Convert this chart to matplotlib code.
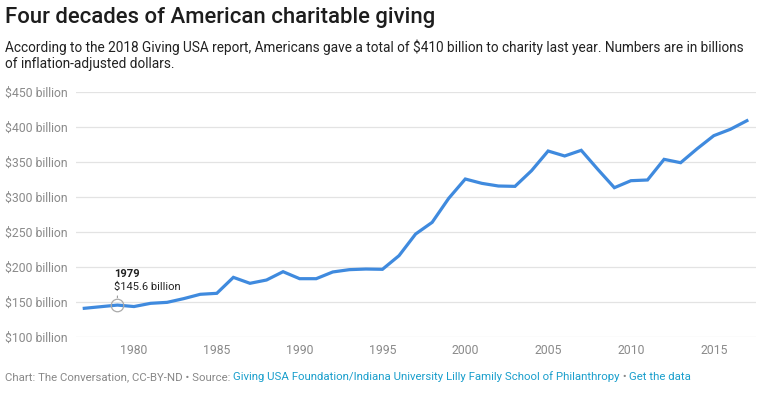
import matplotlib
matplotlib.use('Agg')
import matplotlib.pyplot as plt

plt.rcParams['font.family'] = ['Roboto', 'DejaVu Sans']

years = list(range(1977, 2018))
giving = [141.0, 143.3, 145.6, 143.5, 148.1, 149.5, 154.8, 161.0, 162.4, 185.2,
          176.7, 181.4, 193.3, 183.3, 183.3, 192.9, 196.2, 197.1, 196.7, 216.2,
          247.1, 263.8, 298.1, 325.7, 319.5, 315.7, 315.2, 337.6, 365.7, 358.6,
          366.7, 339.5, 313.3, 323.3, 324.3, 353.8, 349.0, 369.0, 387.6, 396.7,
          409.0]
y_ticks = [100, 150, 200, 250, 300, 350, 400, 450]
x_ticks = [1980, 1985, 1990, 1995, 2000, 2005, 2010, 2015]
note_year = 1979
note_value = 145.6

W, H = 770, 396
fig = plt.figure(figsize=(W / 100, H / 100), dpi=100)
ax = fig.add_axes([76 / W, (H - 337) / H, 680 / W, 245 / H])

ax.plot(years, giving, color='#3f8ade', lw=2.3, solid_joinstyle='miter', zorder=3)

ax.set_xlim(1976.5, 2017.55)
ax.set_ylim(100, 450)
ax.set_yticks(y_ticks)
ax.set_yticklabels(['$%d billion' % v for v in y_ticks])
ax.set_xticks(x_ticks)
ax.grid(axis='y', color='#e3e3e3', lw=0.9)
ax.set_axisbelow(True)
for s in ax.spines.values():
    s.set_visible(False)
ax.tick_params(axis='both', length=0, colors='#8a8a8a', labelsize=8.8)
ax.tick_params(axis='y', pad=6)
ax.tick_params(axis='x', pad=5)

# annotation for 1979
ax.plot([note_year], [note_value], 'o', ms=9, mfc='none', mec='#aaaaaa', mew=0.9, zorder=4)
ax.annotate('', xy=(note_year, note_value + 6.5), xytext=(note_year, note_value + 17),
            arrowprops=dict(arrowstyle='-', color='#999999', lw=0.8))
ax.annotate(str(note_year), xy=(note_year, note_value), xytext=(-2.5, 22.3),
            textcoords='offset points', fontsize=8, fontweight='bold', color='#222222',
            va='center')
ax.annotate('$%.1f billion' % note_value, xy=(note_year, note_value), xytext=(-2.5, 13),
            textcoords='offset points', fontsize=8, color='#222222', va='center')

fig.text(5 / W, 1 - 17 / H, 'Four decades of American charitable giving',
         fontsize=15.9, fontweight='medium', color='#1d1d1d', va='center')
fig.text(5 / W, 1 - 47 / H,
         'According to the 2018 Giving USA report, Americans gave a total of $410 billion to charity last year. Numbers are in billions',
         fontsize=9.85, color='#222222', va='center')
fig.text(5 / W, 1 - 64 / H, 'of inflation-adjusted dollars.',
         fontsize=9.85, color='#222222', va='center')

# footer with mixed colours
pieces = [('Chart: The Conversation, CC-BY-ND \u2022 Source: ', '#888888'),
          ('Giving USA Foundation/Indiana University Lilly Family School of Philanthropy', '#1a9fcc'),
          (' \u2022 ', '#888888'),
          ('Get the data', '#1a9fcc')]
fig.canvas.draw()
r = fig.canvas.get_renderer()
x = 5
for txt, col in pieces:
    t = fig.text(x / W, 1 - 377 / H, txt, fontsize=8.2, color=col, va='center')
    x += t.get_window_extent(renderer=r).width

fig.savefig('out.png', dpi=100)
